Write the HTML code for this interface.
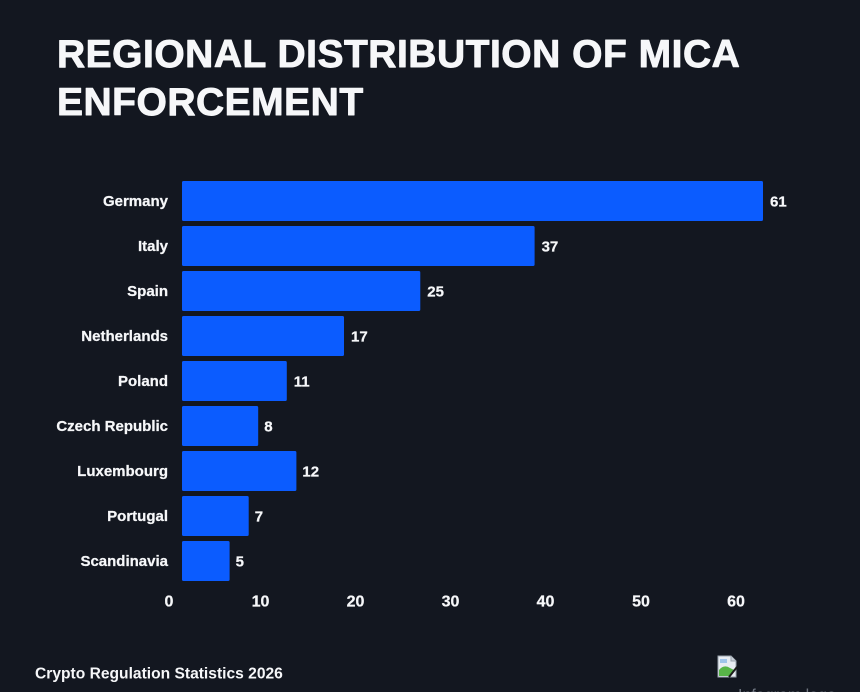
<!DOCTYPE html>
<html>
<head>
<meta charset="utf-8">
<style>
  html, body { margin: 0; padding: 0; background: #131720; }
  body { width: 860px; height: 692px; overflow: hidden; }
  svg { display: block; }
  text { font-family: "Liberation Sans", Arial, sans-serif; font-weight: bold; fill: #f6f7f9; }
</style>
</head>
<body>
<svg width="860" height="692" viewBox="0 0 860 692" xmlns="http://www.w3.org/2000/svg">
  <rect x="0" y="0" width="860" height="692" fill="#131720"/>

  <!-- Title -->
  <g stroke="#f6f7f9" stroke-width="0.9" stroke-linejoin="round">
    <text x="57" y="67" font-size="39" letter-spacing="0.5">REGIONAL DISTRIBUTION OF MICA</text>
    <text x="57" y="115" font-size="39" letter-spacing="0.5">ENFORCEMENT</text>
  </g>

  <!-- Bars -->
  <g fill="#0b5cff">
    <rect x="182" y="181" width="581" height="40" rx="1.5"/>
    <rect x="182" y="226" width="352.6" height="40" rx="1.5"/>
    <rect x="182" y="271" width="238.3" height="40" rx="1.5"/>
    <rect x="182" y="316" width="162" height="40" rx="1.5"/>
    <rect x="182" y="361" width="104.8" height="40" rx="1.5"/>
    <rect x="182" y="406" width="76.2" height="40" rx="1.5"/>
    <rect x="182" y="451" width="114.4" height="40" rx="1.5"/>
    <rect x="182" y="496" width="66.7" height="40" rx="1.5"/>
    <rect x="182" y="541" width="47.6" height="40" rx="1.5"/>
  </g>

  <!-- Category labels -->
  <g font-size="15" text-anchor="end" stroke="#f6f7f9" stroke-width="0.25">
    <text x="168" y="206">Germany</text>
    <text x="168" y="251">Italy</text>
    <text x="168" y="296">Spain</text>
    <text x="168" y="341">Netherlands</text>
    <text x="168" y="386">Poland</text>
    <text x="168" y="431">Czech Republic</text>
    <text x="168" y="476">Luxembourg</text>
    <text x="168" y="521">Portugal</text>
    <text x="168" y="566">Scandinavia</text>
  </g>

  <!-- Value labels -->
  <g font-size="15" stroke="#f6f7f9" stroke-width="0.25">
    <text x="770" y="206.4">61</text>
    <text x="541.6" y="251.4">37</text>
    <text x="427.3" y="296.4">25</text>
    <text x="351" y="341.4">17</text>
    <text x="293.8" y="386.4">11</text>
    <text x="264.2" y="431.4">8</text>
    <text x="302.4" y="476.4">12</text>
    <text x="254.7" y="521.4">7</text>
    <text x="235.6" y="566.4">5</text>
  </g>

  <!-- X axis ticks -->
  <g font-size="16" text-anchor="middle" stroke="#f6f7f9" stroke-width="0.25">
    <text x="169" y="606.5">0</text>
    <text x="260.5" y="606.5">10</text>
    <text x="355.5" y="606.5">20</text>
    <text x="450.5" y="606.5">30</text>
    <text x="545.5" y="606.5">40</text>
    <text x="641" y="606.5">50</text>
    <text x="736" y="606.5">60</text>
  </g>

  <!-- Footer -->
  <text x="35" y="678.5" font-size="15.6">Crypto Regulation Statistics 2026</text>

  <!-- Broken image icon -->
  <g>
    <path d="M718 656 L731 656 L736 661 L736 677 L718 677 Z" fill="#e8ecf2" stroke="#9aa3ad" stroke-width="1"/>
    <path d="M731 656 L731 661 L736 661" fill="#c9d0d8" stroke="#9aa3ad" stroke-width="1"/>
    <path d="M719 676 L719 670 Q724 664 730 668 L734 670 L730 676 Z" fill="#58b548"/>
    <rect x="720" y="659" width="7" height="4" fill="#9fc4ea"/>
    <path d="M729 677 L737 667" stroke="#1b1b1b" stroke-width="2"/>
  </g>
  <text x="738" y="700" font-size="16" style="font-weight:normal;fill:#6f7580">Infogram logo</text>
</svg>
</body>
</html>
